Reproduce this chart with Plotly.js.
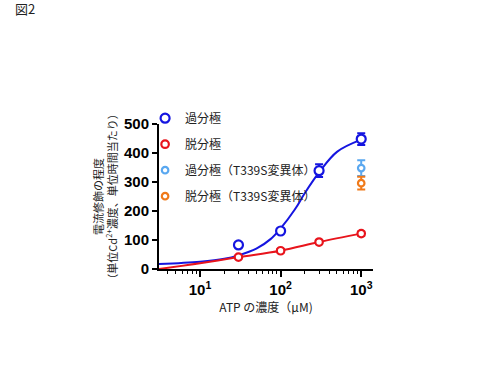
<!DOCTYPE html>
<html>
<head>
<meta charset="utf-8">
<script src="https://cdn.plot.ly/plotly-3.0.1.min.js"></script>
<style>html,body{margin:0;padding:0;background:#fff;}#chart{width:500px;height:375px;}</style>
</head>
<body>
<div id="chart"></div>
<script>
// ATP concentration (µM)
const atp = [30, 100, 300, 1000];
// 過分極 (hyperpolarization) measured points and SEM
const hyperY = [83, 131, 339, 448];
const hyperErr = [0, 0, 22, 20];
// 脱分極 (depolarization) measured points and SEM
const depolY = [41, 63, 93, 122];
const depolErr = [5, 6, 6, 7];
// T339S mutant at 1000 µM
const mutX = [1000];
const mutHyperY = [348];
const mutHyperErr = [27];
const mutDepolY = [296];
const mutDepolErr = [22];
// Fitted curves
const hyperFitX = [3.1, 10, 20, 30, 50, 75, 100, 150, 200, 300, 500, 1000];
const hyperFitY = [17, 25, 35, 47, 70, 103, 140, 205, 262, 333, 404, 446];
const depolFitX = [3.1, 10, 30, 100, 300, 1000];
const depolFitY = [0, 20, 41, 63, 93, 122];
// Tick labels
const xTickVals = [10, 100, 1000];
const xTickText = ['10<sup>1</sup>', '10<sup>2</sup>', '10<sup>3</sup>'];
const names = ['過分極', '脱分極', '過分極（T339S変異体）', '脱分極（T339S変異体）'];

const blue = '#1515e0', red = '#e8141c', lblue = '#5aa8f0', orange = '#f07a1a';

const minorVals = [];
for (let d = 1; d <= 100; d *= 10) for (let k = 2; k <= 9; k++) { const v = k * d; if (v > 3.1) minorVals.push(v); }

function pts(x, y, err, name, grp, color, size) {
  return {x: x, y: y, name: name, legendgroup: grp, mode: 'markers',
    marker: {symbol: 'circle', size: size, color: '#ffffff', line: {width: 2.2, color: color}},
    error_y: {type: 'data', array: err, color: color, thickness: 2, width: 4}};
}

const traces = [
  {x: hyperFitX, y: hyperFitY, mode: 'lines', line: {color: blue, width: 2, shape: 'spline'}, showlegend: false, hoverinfo: 'skip'},
  {x: depolFitX, y: depolFitY, mode: 'lines', line: {color: red, width: 2, shape: 'spline'}, showlegend: false, hoverinfo: 'skip'},
  pts(atp, hyperY, hyperErr, names[0], 'a', blue, 9),
  pts(atp, depolY, depolErr, names[1], 'b', red, 7.5),
  pts(mutX, mutHyperY, mutHyperErr, names[2], 'c', lblue, 6.5),
  pts(mutX, mutDepolY, mutDepolErr, names[3], 'd', orange, 6.5)
];

const layout = {
  width: 500, height: 375,
  margin: {l: 159, r: 127, t: 124, b: 106},
  paper_bgcolor: '#fff', plot_bgcolor: '#fff',
  font: {family: '"Noto Sans CJK JP", "Liberation Sans", Arial, sans-serif', color: '#111'},
  showlegend: true,
  legend: {x: -0.065, xanchor: 'left', y: 1.14, yanchor: 'top', bgcolor: 'rgba(0,0,0,0)',
           font: {size: 12, family: '"Noto Sans CJK JP", sans-serif', color: '#222'},
           tracegroupgap: 7, itemwidth: 30},
  xaxis: {
    type: 'log', range: [Math.log10(3.1), Math.log10(1400)],
    tickmode: 'array', tickvals: xTickVals, ticktext: xTickText,
    ticks: 'outside', ticklen: 6, tickwidth: 2, tickcolor: '#000',
    showline: true, linecolor: '#000', linewidth: 2, showgrid: false, zeroline: false,
    tickfont: {family: '"Liberation Sans", Arial, sans-serif', size: 15, weight: 'bold', color: '#000'},
    minor: {tickmode: 'array', tickvals: minorVals, ticks: 'outside', ticklen: 3, tickwidth: 1, tickcolor: '#000', showgrid: false},
    title: {text: 'ATP の濃度（μM)', font: {size: 12, family: '"Noto Sans CJK JP", sans-serif', color: '#222'}, standoff: 6}
  },
  yaxis: {
    range: [0, 500], dtick: 100, tick0: 0,
    ticks: 'outside', ticklen: 5, tickwidth: 2, tickcolor: '#000',
    showline: true, linecolor: '#000', linewidth: 2, showgrid: false, zeroline: false,
    tickfont: {family: '"Liberation Sans", Arial, sans-serif', size: 15, weight: 'bold', color: '#000'},
    title: {text: '電流修飾の程度<br>（単位Cd<sup>2+</sup>濃度、単位時間当たり）', font: {size: 11, family: '"Noto Sans CJK JP", sans-serif', color: '#222'}, standoff: 4}
  },
  annotations: [
    {text: '図2', xref: 'paper', yref: 'paper', x: -0.68, y: 1.8, xanchor: 'left', yanchor: 'middle', showarrow: false,
     font: {size: 13, family: '"Noto Sans CJK JP", sans-serif', color: '#222'}}
  ]
};

Plotly.newPlot('chart', traces, layout, {displayModeBar: false, staticPlot: true});
</script>
</body>
</html>
